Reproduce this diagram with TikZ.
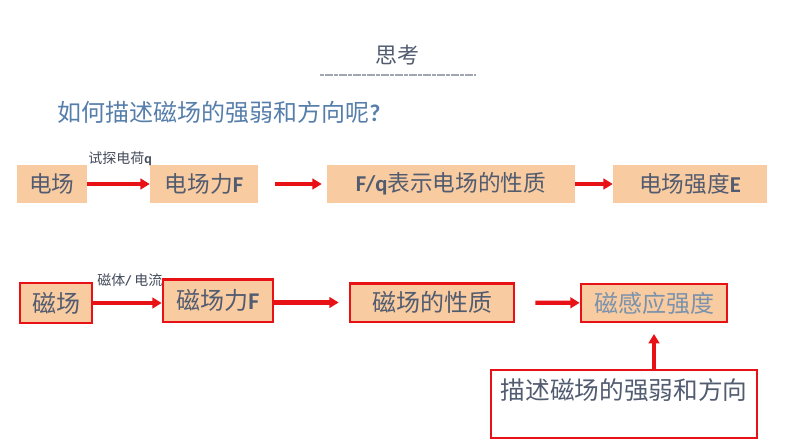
\documentclass[tikz,border=0pt]{standalone}
\usepackage{fontspec}
\usetikzlibrary{arrows.meta}
\newfontfamily\cjk{Noto Sans CJK SC}
\newfontfamily\lat{Carlito}
\definecolor{boxfill}{RGB}{249,203,160}
\definecolor{boxtext}{RGB}{82,92,112}
\definecolor{linkred}{RGB}{232,18,22}
\definecolor{asktext}{RGB}{86,126,170}
\definecolor{lighttext}{RGB}{122,146,172}
\newcommand{\bigfont}{\cjk\fontsize{17}{20}\selectfont}
\newcommand{\Lt}[1]{{\lat\bfseries #1}}

\begin{document}
\begin{tikzpicture}[
    x=0.75pt, y=-0.75pt,
    every node/.style={inner sep=0pt},
    ebox/.style={fill=boxfill, text=boxtext, font=\bigfont, minimum height=28.5pt},
    mbox/.style={ebox, draw=linkred, line width=2pt},
    link/.style={draw=linkred, line width=3.2pt, -{Triangle[length=7pt, width=8pt]}},
    small/.style={text=boxtext!80!black, font=\cjk\fontsize{10.5}{12}\selectfont, anchor=west}
]
% Set manual bounding box
\useasboundingbox (0,0) rectangle (794,447);

% Heading
\node[text=boxtext, font=\cjk\fontsize{16.5}{19}\selectfont] (title) at (397,55) {思考};
\draw[boxtext!55, line width=2.2pt, dash pattern=on 3pt off 0.5pt] (320,75) -- (476,75);
\node[anchor=west, text=asktext, font=\cjk\fontsize{18}{21}\selectfont] (ask) at (57,112) {如何描述磁场的强弱和方向呢\Lt{?}};

% Electric field row
\node[ebox, minimum width=52.5pt] (efield) at (52,184) {电场};
\node[ebox, minimum width=81pt] (eforce) at (204,184) {电场力\Lt{F}};
\node[ebox, minimum width=186pt] (eratio) at (451,184) {\Lt{F/q}表示电场的性质};
\node[ebox, minimum width=115.5pt] (estrength) at (690,184) {电场强度\Lt{E}};
\node[small] (charge) at (88,159) {试探电荷\Lt{q}};

% Magnetic field row
\node[mbox, minimum width=54pt, minimum height=30pt, font=\cjk\fontsize{18}{21}\selectfont] (mfield) at (56,303) {磁场};
\node[mbox, minimum width=82.5pt, minimum height=32pt, font=\cjk\fontsize{18}{21}\selectfont] (mforce) at (218,300.5) {磁场力\Lt{F}};
\node[mbox, minimum width=123pt, minimum height=29pt, font=\cjk\fontsize{18}{21}\selectfont] (mprop) at (432,302.5) {磁场的性质};
\node[mbox, minimum width=109.5pt, text=lighttext, font=\cjk\fontsize{18}{21}\selectfont] (mstrength) at (654,303) {磁感应强度};
\node[small] (magnet) at (97,280) {磁体\Lt{/} 电流};
\node[draw=linkred, line width=2pt, fill=white, text=boxtext, font=\cjk\fontsize{18.5}{22}\selectfont,
      minimum width=199.5pt, text height=22pt, text depth=29pt] (describe) at (624,404) {描述磁场的强弱和方向};

% Connections
\draw[link] (efield) -- (eforce);
\draw[link, shorten <=12.75pt, shorten >=3.75pt] (eforce) -- (eratio);
\draw[link] (eratio) -- (estrength);
\draw[link] (mfield.east) -- (mfield.east -| mforce.west);
\draw[link, shorten >=7.5pt] (mforce.east |- mprop.west) -- (mprop.west);
\draw[link, shorten <=15pt] (mprop) -- (mstrength);
\draw[link, shorten >=8pt] (mstrength.south |- describe.north) -- (mstrength.south);

\end{tikzpicture}
\end{document}
